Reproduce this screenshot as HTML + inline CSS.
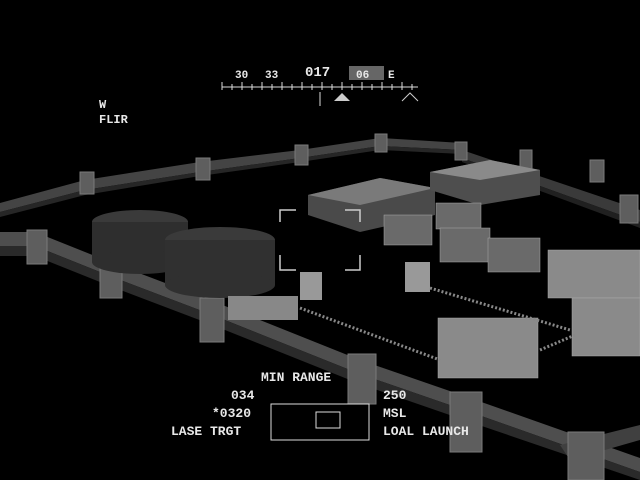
<!DOCTYPE html>
<html><head><style>
html,body{margin:0;padding:0;background:#000;}
svg{display:block;}
text{font-family:"Liberation Mono",monospace;fill:#e8e8e8;font-weight:bold;}
</style></head><body>
<svg width="640" height="480" viewBox="0 0 640 480" xmlns="http://www.w3.org/2000/svg">
<rect width="640" height="480" fill="#000"/>
<polygon points="0,203 85,180 200,162 300,150 380,138 462,143 462,150 380,146 300,158 200,172 85,190 0,212" fill="#444"/>
<polygon points="0,212 85,190 200,172 300,158 380,146 462,150 462,154 380,150 300,162 200,176 85,195 0,217" fill="#262626"/>
<polygon points="462,150 640,210 640,222 462,158" fill="#3a3a3a"/>
<polygon points="462,158 640,222 640,228 462,162" fill="#202020"/>
<polygon points="0,232 35,232 110,262 210,300 360,360 470,398 640,458 640,472 470,412 360,374 210,314 110,276 35,246 0,246" fill="#4e4e4e"/>
<polygon points="0,246 35,246 110,276 210,314 360,374 470,412 640,472 640,480 470,422 360,384 210,324 110,286 35,256 0,256" fill="#2a2a2a"/>
<polygon points="560,445 640,425 640,440 570,460" fill="#404040"/>
<g fill="#5e5e5e" stroke="#7a7a7a" stroke-width="1">
<rect x="80" y="172" width="14" height="22"/><rect x="196" y="158" width="14" height="22"/>
<rect x="295" y="145" width="13" height="20"/><rect x="375" y="134" width="12" height="18"/>
<rect x="455" y="142" width="12" height="18"/><rect x="520" y="150" width="12" height="20"/>
<rect x="590" y="160" width="14" height="22"/><rect x="620" y="195" width="18" height="28"/>
<rect x="27" y="230" width="20" height="34"/><rect x="100" y="260" width="22" height="38"/>
<rect x="200" y="298" width="24" height="44"/><rect x="348" y="354" width="28" height="50"/>
<rect x="450" y="392" width="32" height="60"/><rect x="568" y="432" width="36" height="48"/>
</g>
<ellipse cx="140" cy="222" rx="48" ry="12" fill="#3a3a3a"/>
<rect x="92" y="222" width="96" height="40" fill="#2e2e2e"/>
<ellipse cx="140" cy="262" rx="48" ry="12" fill="#2e2e2e"/>
<ellipse cx="220" cy="240" rx="55" ry="13" fill="#3a3a3a"/>
<rect x="165" y="240" width="110" height="45" fill="#303030"/>
<ellipse cx="220" cy="285" rx="55" ry="13" fill="#303030"/>
<polygon points="308,195 380,178 435,188 435,215 360,232 308,215" fill="#4a4a4a"/>
<polygon points="308,195 380,178 435,188 360,205" fill="#7a7a7a"/>
<polygon points="430,172 490,160 540,170 540,195 480,205 430,190" fill="#4e4e4e"/>
<polygon points="430,172 490,160 540,170 480,180" fill="#8a8a8a"/>
<g fill="#6a6a6a" stroke="#aaa" stroke-width="0.5">
<rect x="384" y="215" width="48" height="30"/><rect x="436" y="203" width="45" height="26"/>
<rect x="440" y="228" width="50" height="34"/><rect x="488" y="238" width="52" height="34"/>
<rect x="548" y="250" width="92" height="48" fill="#8a8a8a"/>
<rect x="572" y="298" width="68" height="58" fill="#8a8a8a"/>
<rect x="438" y="318" width="100" height="60" fill="#8a8a8a"/>
</g>
<rect x="405" y="262" width="25" height="30" fill="#999"/>
<rect x="300" y="272" width="22" height="28" fill="#999"/>
<rect x="228" y="296" width="70" height="24" fill="#888"/>
<g stroke="#888" stroke-width="3" stroke-dasharray="2,2">
<line x1="300" y1="308" x2="440" y2="360"/><line x1="430" y1="288" x2="570" y2="330"/>
<line x1="540" y1="350" x2="575" y2="335"/>
</g>
<g stroke="#ccc" stroke-width="1.5" fill="none">
<polyline points="280,222 280,210 296,210"/><polyline points="345,210 360,210 360,222"/>
<polyline points="280,255 280,270 296,270"/><polyline points="345,270 360,270 360,255"/>
</g>
<text x="235" y="78" font-size="11">30</text><text x="265" y="78" font-size="11">33</text>
<text x="305" y="76" font-size="14">017</text>
<rect x="349" y="66" width="35" height="14" fill="#666"/>
<text x="356" y="78" font-size="11">06</text><text x="388" y="78" font-size="11">E</text>
<line x1="222" y1="87" x2="418" y2="87" stroke="#ddd" stroke-width="1"/>
<g stroke="#ddd" stroke-width="1">
<line x1="222" y1="82" x2="222" y2="90"/><line x1="232" y1="84" x2="232" y2="90"/><line x1="242" y1="82" x2="242" y2="90"/><line x1="252" y1="84" x2="252" y2="90"/><line x1="262" y1="82" x2="262" y2="90"/><line x1="272" y1="84" x2="272" y2="90"/><line x1="282" y1="82" x2="282" y2="90"/><line x1="292" y1="84" x2="292" y2="90"/><line x1="302" y1="82" x2="302" y2="90"/><line x1="312" y1="84" x2="312" y2="90"/><line x1="322" y1="82" x2="322" y2="90"/><line x1="332" y1="84" x2="332" y2="90"/><line x1="342" y1="82" x2="342" y2="90"/><line x1="352" y1="84" x2="352" y2="90"/><line x1="362" y1="82" x2="362" y2="90"/><line x1="372" y1="84" x2="372" y2="90"/><line x1="382" y1="82" x2="382" y2="90"/><line x1="392" y1="84" x2="392" y2="90"/><line x1="402" y1="82" x2="402" y2="90"/><line x1="412" y1="84" x2="412" y2="90"/>
<line x1="320" y1="92" x2="320" y2="106"/>
</g>
<polygon points="334,101 342,93 350,101" fill="#ccc"/>
<polyline points="402,101 410,93 418,101" fill="none" stroke="#ccc"/>
<text x="99" y="108" font-size="12">W</text>
<text x="99" y="123" font-size="12">FLIR</text>
<text x="261" y="381" font-size="13">MIN RANGE</text>
<text x="231" y="399" font-size="13">034</text>
<text x="383" y="399" font-size="13">250</text>
<text x="212" y="417" font-size="13">*0320</text>
<text x="383" y="417" font-size="13">MSL</text>
<text x="171" y="435" font-size="13">LASE TRGT</text>
<text x="383" y="435" font-size="13">LOAL LAUNCH</text>
<rect x="271" y="404" width="98" height="36" fill="#000" stroke="#ddd" stroke-width="1"/>
<rect x="316" y="412" width="24" height="16" fill="none" stroke="#ddd" stroke-width="1"/>
</svg>
</body></html>
